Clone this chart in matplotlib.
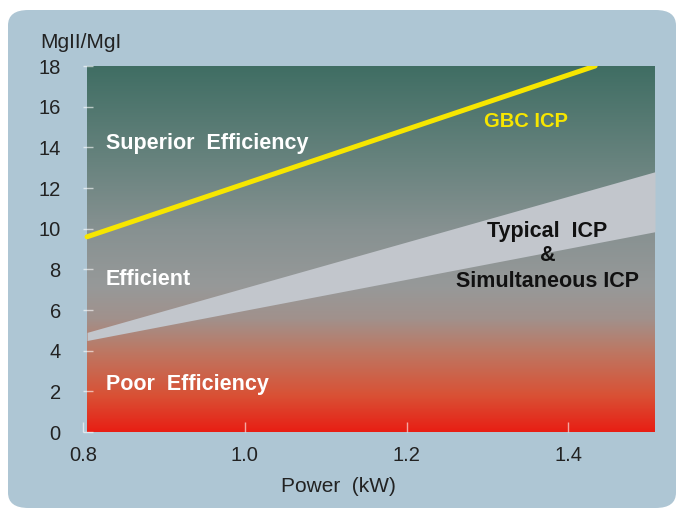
import numpy as np
import matplotlib
matplotlib.use("Agg")
import matplotlib.pyplot as plt
from matplotlib.colors import LinearSegmentedColormap
from matplotlib.patches import FancyBboxPatch

plt.rcParams['font.family'] = ['Liberation Sans', 'DejaVu Sans']

# Data
xlim = (0.805, 1.507)
ylim = (0, 18)
x_ticks = [0.8, 1.0, 1.2, 1.4]
x_tick_labels = ["0.8", "1.0", "1.2", "1.4"]
y_ticks = [0, 2, 4, 6, 8, 10, 12, 14, 16, 18]
gbc_x = [0.805, 1.433]
gbc_y = [9.6, 18.0]
typ_x = [0.805, 1.507]
typ_upper = [4.9, 12.8]
typ_lower = [4.5, 9.85]

fig = plt.figure(figsize=(6.8, 5.11), dpi=100)
fig.patch.set_facecolor('white')
panel = FancyBboxPatch((8/680, 3/511), 668/680, 498/511,
                       boxstyle="round,pad=0,rounding_size=0.03",
                       transform=fig.transFigure, facecolor='#aec6d4',
                       edgecolor='none', zorder=-10)
fig.patches.append(panel)

ax = fig.add_axes([83/680, 1 - 432/511, (655-83)/680, (432-66)/511])
ax.set_zorder(1)
ax.patch.set_alpha(0)
ax.set_xlim(*xlim)
ax.set_ylim(*ylim)

# background gradient (bottom to top)
stops = [(0.0, (0.91, 0.12, 0.08)),
         (0.10, (0.85, 0.32, 0.21)),
         (0.22, (0.74, 0.47, 0.39)),
         (0.31, (0.63, 0.57, 0.55)),
         (0.40, (0.59, 0.60, 0.60)),
         (0.55, (0.53, 0.57, 0.57)),
         (0.75, (0.40, 0.51, 0.49)),
         (1.0, (0.25, 0.43, 0.39))]
cmap = LinearSegmentedColormap.from_list('bg', stops)
grad = np.linspace(0, 1, 256).reshape(-1, 1)
ax.imshow(grad, extent=[xlim[0], xlim[1], ylim[0], ylim[1]], origin='lower',
          aspect='auto', cmap=cmap, zorder=0)

ax.fill_between(typ_x, typ_lower, typ_upper, color='#c2c6cc', zorder=1, linewidth=0)
ax.plot(gbc_x, gbc_y, color='#f7e600', linewidth=3.6, solid_capstyle='round', zorder=3)

for s in ax.spines.values():
    s.set_visible(False)

ax.set_xticks(x_ticks)
ax.set_xticklabels(x_tick_labels)
ax.set_yticks(y_ticks)
ax.tick_params(axis='both', direction='in', color=(1, 1, 1, 0.6), length=7, width=1,
               labelsize=14.5, labelcolor='#222222')
ax.tick_params(axis='y', pad=16)
ax.tick_params(axis='x', pad=10)

fig.text(338/680, 1 - 486/511, 'Power  (kW)', fontsize=15, color='#222222',
         va='center', ha='center')
fig.text(40/680, 1 - 42/511, 'MgII/MgI', fontsize=15, color='#222222', va='center', ha='left')

bold = dict(fontweight='bold', fontsize=15.5)
ax.text(0.828, 14.2, 'Superior  Efficiency', color='white', va='center', ha='left', **bold)
ax.text(0.828, 7.5, 'Efficient', color='white', va='center', ha='left', **bold)
ax.text(0.828, 2.35, 'Poor  Efficiency', color='white', va='center', ha='left', **bold)
ax.text(1.347, 15.25, 'GBC ICP', color='#f7e600', va='center', ha='center',
        fontweight='bold', fontsize=14.5)
ax.text(1.374, 9.85, 'Typical  ICP', color='#111111', va='center', ha='center', **bold)
ax.text(1.374, 8.66, '&', color='#111111', va='center', ha='center', **bold)
ax.text(1.374, 7.38, 'Simultaneous ICP', color='#111111', va='center', ha='center', **bold)

fig.savefig('out.png', dpi=100, facecolor='white')
